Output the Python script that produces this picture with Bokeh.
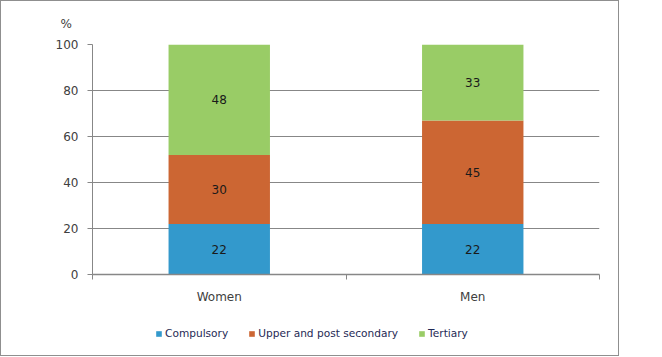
from bokeh.plotting import figure
from bokeh.layouts import column
from bokeh.models import ColumnDataSource, FixedTicker, Legend, LegendItem, LabelSet, Range1d
from bokeh.core.properties import value
from bokeh.embed import file_html
from bokeh.resources import INLINE

categories = ["Women", "Men"]
levels = ["Compulsory", "Upper and post secondary", "Tertiary"]
compulsory = [22, 22]
upper = [30, 45]
tertiary = [48, 33]
y_ticks = [0, 20, 40, 60, 80, 100]
colors = ["#3399CC", "#CC6633", "#99CC66"]

xpos = [i + 0.5 for i in range(len(categories))]
data = dict(x=xpos, cat=categories, Compulsory=compulsory,
            **{"Upper and post secondary": upper}, Tertiary=tertiary)
src = ColumnDataSource(data)

FONT = "DejaVu Sans"
GRID = "#878787"

p = figure(width=617, height=314, output_backend="svg", toolbar_location=None,
           x_range=Range1d(0, len(categories)), y_range=Range1d(0, 100),
           min_border_left=91, min_border_right=19, min_border_top=43, min_border_bottom=41,
           title="%")
p.outline_line_color = None
p.background_fill_color = "white"
p.border_fill_color = "white"

p.title.align = "left"
p.title.offset = -32
p.title.standoff = 27
p.title.text_line_height = 1.0
p.title.text_font = FONT
p.title.text_font_size = "12px"
p.title.text_font_style = "normal"
p.title.text_color = "#404040"

rs = p.vbar_stack(levels, x="x", width=0.4, source=src, color=colors, line_color=None)

# segment labels
lab = {"x": [], "y": [], "t": []}
for i in range(len(categories)):
    base = 0
    for arr in (compulsory, upper, tertiary):
        lab["x"].append(xpos[i])
        lab["y"].append(base + arr[i] / 2)
        lab["t"].append(str(arr[i]))
        base += arr[i]
p.add_layout(LabelSet(x="x", y="y", text="t", source=ColumnDataSource(lab),
                      text_align="center", text_baseline="middle",
                      text_font=value(FONT), text_font_size=value("12px"),
                      text_color="#1a1a1a"))

# axes
p.xgrid.grid_line_color = None
p.ygrid.grid_line_color = GRID
p.ygrid.ticker = FixedTicker(ticks=y_ticks)
p.yaxis.ticker = FixedTicker(ticks=y_ticks)
p.yaxis.axis_line_color = GRID
p.yaxis.major_tick_line_color = GRID
p.yaxis.major_tick_in = 0
p.yaxis.major_tick_out = 5
p.yaxis.minor_tick_line_color = None
p.yaxis.major_label_standoff = 9
p.yaxis.major_label_text_font = FONT
p.yaxis.major_label_text_font_size = "12px"
p.yaxis.major_label_text_color = "#404040"

p.xaxis.ticker = FixedTicker(ticks=xpos, minor_ticks=list(range(len(categories) + 1)))
p.xaxis.major_label_overrides = {x: c for x, c in zip(xpos, categories)}
p.xaxis.axis_line_color = GRID
p.xaxis.axis_line_width = 1.5
p.xaxis.major_tick_line_color = None
p.xaxis.minor_tick_line_color = GRID
p.xaxis.minor_tick_in = 0
p.xaxis.minor_tick_out = 5
p.xaxis.major_label_standoff = 9
p.xaxis.major_label_text_font = FONT
p.xaxis.major_label_text_font_size = "12px"
p.xaxis.major_label_text_color = "#404040"

# legend strip below the chart (same stacked series, hidden, used only as legend keys)
q = figure(width=617, height=40, output_backend="svg", toolbar_location=None,
           min_border=0, x_range=Range1d(100, 101), y_range=Range1d(1000, 1001))
q.axis.visible = False
q.grid.grid_line_color = None
q.outline_line_color = None
proxies = q.vbar_stack(levels, x="x", width=0.4, source=src, color=colors, line_color=None)
for r in proxies:
    r.visible = False
legend = Legend(items=[LegendItem(label=l, renderers=[r]) for l, r in zip(levels, proxies)],
                orientation="horizontal", location=(63, 16),
                glyph_width=7, glyph_height=7, label_height=12, label_standoff=3,
                spacing=20, padding=0, margin=0, border_line_color=None,
                background_fill_alpha=0,
                label_text_font=FONT, label_text_font_size="10.6px", label_text_color="#1F2A55")
q.add_layout(legend, "center")

layout = column(p, q, spacing=0)
layout.styles = {"border": "1px solid #8f8f8f", "background-color": "white"}

open("out.html", "w").write(file_html(layout, INLINE))
